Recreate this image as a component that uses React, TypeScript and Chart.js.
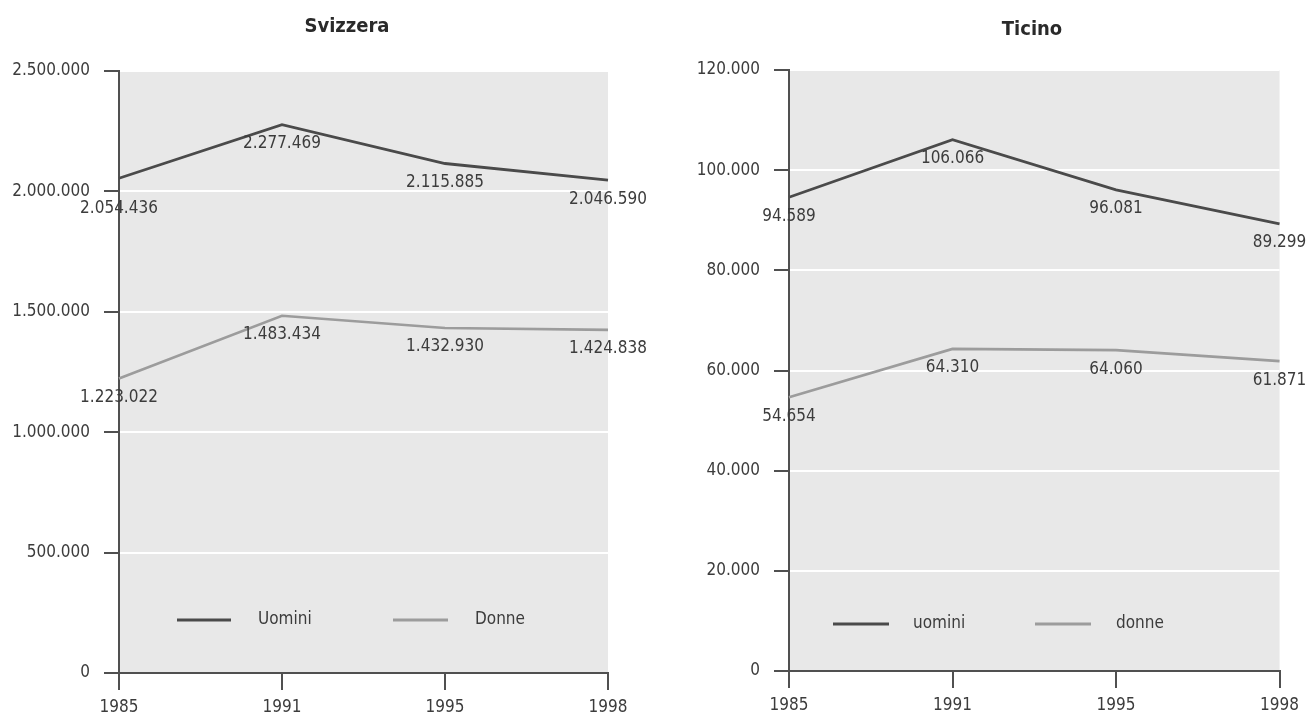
import React, { useEffect, useRef } from 'react';
import { Chart, registerables } from 'chart.js';

Chart.register(...registerables);

const years = ['1985', '1991', '1995', '1998'];
const svizzeraUomini = [2054436, 2277469, 2115885, 2046590];
const svizzeraDonne = [1223022, 1483434, 1432930, 1424838];
const ticinoUomini = [94589, 106066, 96081, 89299];
const ticinoDonne = [54654, 64310, 64060, 61871];
const svizzeraSeries = ['Uomini', 'Donne'];
const ticinoSeries = ['uomini', 'donne'];

const FONT = "'Liberation Sans Narrow', 'DejaVu Sans Condensed', 'Arial Narrow', sans-serif";
const DARK = '#4a4a4a';
const LIGHT = '#9c9c9c';
const TEXT = '#3c3c3c';
const AXIS = '#505050';

function fmt(v: number): string {
  return String(Math.round(v)).replace(/\B(?=(\d{3})+(?!\d))/g, '.');
}

const bgPlugin = {
  id: 'plotBg',
  beforeDraw(chart: any) {
    const { ctx, chartArea } = chart;
    if (!chartArea) return;
    ctx.save();
    ctx.fillStyle = '#e8e8e8';
    ctx.fillRect(chartArea.left, chartArea.top, chartArea.right - chartArea.left, chartArea.bottom - chartArea.top);
    ctx.restore();
  },
};

const valueLabelPlugin = {
  id: 'valueLabels',
  afterDatasetsDraw(chart: any) {
    const { ctx } = chart;
    ctx.save();
    ctx.font = `17px ${FONT}`;
    ctx.fillStyle = TEXT;
    ctx.textAlign = 'center';
    ctx.textBaseline = 'middle';
    chart.data.datasets.forEach((ds: any, i: number) => {
      const meta = chart.getDatasetMeta(i);
      meta.data.forEach((el: any, j: number) => {
        const dy = ds.labelOffsets ? ds.labelOffsets[j] : 19;
        ctx.fillText(fmt(ds.data[j]), el.x, el.y + dy);
      });
    });
    ctx.restore();
  },
};

const titlePlugin = {
  id: 'panelTitle',
  afterDraw(chart: any, _args: any, opts: any) {
    const { ctx } = chart;
    ctx.save();
    ctx.font = `bold 20px ${FONT}`;
    ctx.fillStyle = '#2a2a2a';
    ctx.textAlign = 'center';
    ctx.textBaseline = 'middle';
    ctx.fillText(opts.text, opts.x, opts.y);
    ctx.restore();
  },
};

const legendPlugin = {
  id: 'innerLegend',
  afterDraw(chart: any, _args: any, opts: any) {
    const { ctx, chartArea } = chart;
    const y = chartArea.bottom - opts.dy;
    ctx.save();
    ctx.font = `17px ${FONT}`;
    ctx.textBaseline = 'middle';
    ctx.textAlign = 'left';
    chart.data.datasets.forEach((ds: any, i: number) => {
      const it = opts.items[i];
      ctx.strokeStyle = ds.borderColor;
      ctx.lineWidth = 3;
      ctx.beginPath();
      ctx.moveTo(chartArea.left + it.line0, y);
      ctx.lineTo(chartArea.left + it.line1, y);
      ctx.stroke();
      ctx.fillStyle = TEXT;
      ctx.fillText(ds.label, chartArea.left + it.text, y);
    });
    ctx.restore();
  },
};

type PanelProps = {
  left: number;
  title: string;
  titleX: number;
  titleY: number;
  names: string[];
  men: number[];
  women: number[];
  max: number;
  step: number;
  axisWidth: number;
  padTop: number;
  padRight: number;
  xHeight: number;
  legendDy: number;
  legendItems: { line0: number; line1: number; text: number }[];
  menOffsets: number[];
};

function Panel(p: PanelProps) {
  const ref = useRef<HTMLCanvasElement | null>(null);
  useEffect(() => {
    if (!ref.current) return;
    const chart = new Chart(ref.current, {
      type: 'line',
      data: {
        labels: years,
        datasets: [
          {
            label: p.names[0],
            data: p.men,
            borderColor: DARK,
            borderWidth: 2.8,
            pointRadius: 0,
            tension: 0,
            fill: false,
            labelOffsets: p.menOffsets,
          } as any,
          {
            label: p.names[1],
            data: p.women,
            borderColor: LIGHT,
            borderWidth: 2.6,
            pointRadius: 0,
            tension: 0,
            fill: false,
          } as any,
        ],
      },
      options: {
        animation: false,
        responsive: false,
        layout: { padding: { top: p.padTop, right: p.padRight, left: 0, bottom: 0 } },
        plugins: {
          legend: { display: false },
          tooltip: { enabled: false },
          panelTitle: { text: p.title, x: p.titleX, y: p.titleY },
          innerLegend: { dy: p.legendDy, items: p.legendItems },
        } as any,
        scales: {
          x: {
            type: 'category',
            offset: false,
            grid: { drawOnChartArea: false, tickLength: 17, tickColor: AXIS, lineWidth: 2 },
            border: { color: AXIS, width: 2 },
            ticks: { font: { family: FONT, size: 17 }, color: TEXT, padding: 7, maxRotation: 0, autoSkip: false },
            afterFit: (s: any) => {
              s.height = p.xHeight;
            },
          },
          y: {
            min: 0,
            max: p.max,
            ticks: {
              stepSize: p.step,
              callback: (v: any) => fmt(Number(v)),
              font: { family: FONT, size: 17 },
              color: TEXT,
              padding: 14,
            },
            grid: {
              color: (c: any) => (c.tick && c.tick.value === 0 ? 'rgba(0,0,0,0)' : '#ffffff'),
              lineWidth: 2,
              tickColor: AXIS,
              tickLength: 15,
              tickWidth: 2,
            },
            border: { color: AXIS, width: 2 },
            afterFit: (s: any) => {
              s.width = p.axisWidth;
            },
          },
        },
      } as any,
      plugins: [bgPlugin, valueLabelPlugin, titlePlugin, legendPlugin],
    });
    return () => chart.destroy();
  }, []);
  return (
    <canvas
      ref={ref}
      width={653}
      height={717}
      style={{ position: 'absolute', left: p.left, top: 0, width: 653, height: 717 }}
    />
  );
}

export default function App() {
  return (
    <div style={{ position: 'absolute', left: 0, top: 0, width: 1306, height: 717, background: '#fff', overflow: 'hidden' }}>
      <Panel
        left={0}
        title="Svizzera"
        titleX={347}
        titleY={27}
        names={svizzeraSeries}
        men={svizzeraUomini}
        women={svizzeraDonne}
        max={2500000}
        step={500000}
        axisWidth={119}
        padTop={71}
        padRight={45}
        xHeight={44}
        legendDy={53}
        legendItems={[
          { line0: 58, line1: 112, text: 139 },
          { line0: 274, line1: 329, text: 356 },
        ]}
        menOffsets={[30, 19, 19, 19]}
      />
      <Panel
        left={653}
        title="Ticino"
        titleX={379}
        titleY={30}
        names={ticinoSeries}
        men={ticinoUomini}
        women={ticinoDonne}
        max={120000}
        step={20000}
        axisWidth={136}
        padTop={70}
        padRight={23}
        xHeight={46}
        legendDy={47}
        legendItems={[
          { line0: 44, line1: 100, text: 124 },
          { line0: 246, line1: 302, text: 327 },
        ]}
        menOffsets={[19, 19, 19, 19]}
      />
    </div>
  );
}
